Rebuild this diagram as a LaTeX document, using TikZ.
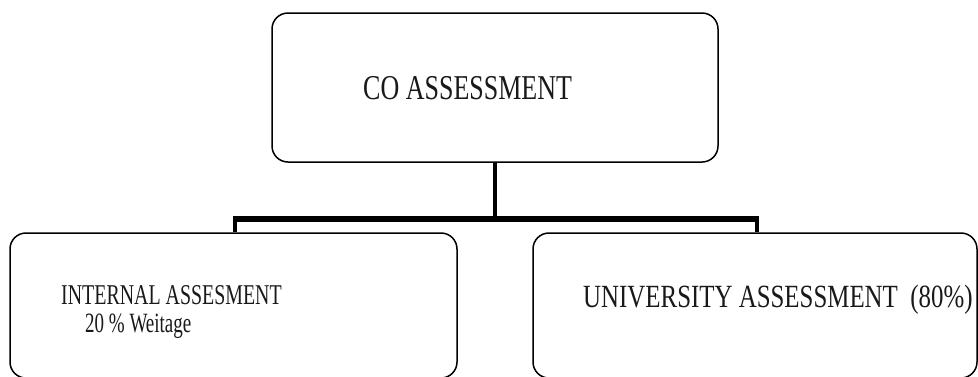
\documentclass[tikz,border=0pt]{standalone}
\usepackage{fontspec}
\usepackage{graphicx}
\setmainfont{Liberation Serif}
\tikzset{
  box/.style={draw=black, line width=1.5pt, rounded corners=16pt, inner sep=0pt},
  lbl/.style={anchor=base west, inner sep=0pt, text=black!90},
  vline/.style={line width=4pt},
  hbar/.style={line width=6.5pt},
}
\newcommand{\stretchtxt}[3]{\scalebox{1}[#2]{\fontsize{#1}{#1}\selectfont #3}}
\begin{document}
\begin{tikzpicture}[x=1pt, y=-1pt]
\useasboundingbox (0,0) rectangle (978,376);
\fill[white] (0,0) rectangle (978,376);
% boxes
\node[box, minimum width=446pt, minimum height=149pt] (top) at (495,87.5) {};
\node[box, minimum width=447pt, minimum height=145pt] (left) at (233.5,305.5) {};
\node[box, minimum width=444pt, minimum height=145pt] (right) at (755,305.5) {};
% texts
\node[lbl] (t1) at (363,99) {\stretchtxt{26}{1.34}{CO ASSESSMENT}};
\node[lbl] (t2) at (61,304) {\stretchtxt{19.9}{1.44}{INTERNAL ASSESMENT}};
\node[lbl] (t3) at (85,332) {\stretchtxt{19}{1.47}{20 \% Weitage}};
\node[lbl] (t4) at (583,307) {\stretchtxt{24.9}{1.3}{UNIVERSITY ASSESSMENT\ \ (80\%)}};
% connectors
\coordinate (bl) at (235,219);
\coordinate (br) at (757,219);
\coordinate (bm) at (495,219);
\draw[vline] (top.south) -- (bm);
\draw[hbar] ([xshift=-2pt]bl) -- ([xshift=2pt]br);
\draw[vline] (bl) -- (bl |- left.north);
\draw[vline] (br) -- (br |- right.north);
\end{tikzpicture}
\end{document}
